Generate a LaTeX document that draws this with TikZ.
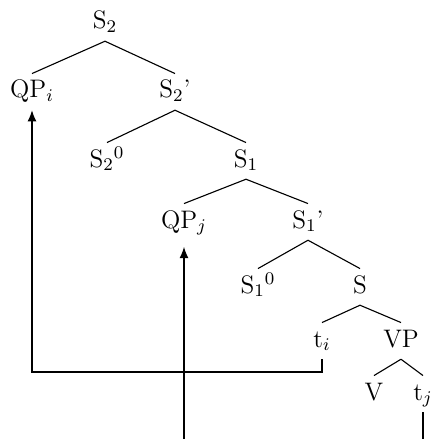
\documentclass[tikz,border=0pt]{standalone}
\usepackage{amsmath}
\usetikzlibrary{
    arrows.meta,
    calc
}
\tikzset{
  cat/.style    = {anchor=base, inner xsep=1pt, inner ysep=3pt,
                   text height=7.8pt, text depth=2.3pt,
                   font=\fontsize{11.4}{13}\selectfont},
  branch/.style = {line width=0.5pt},
  mvarr/.style  = {-{Latex[length=5pt, width=4pt]}, line width=0.5pt}
}

\begin{document}
\begin{tikzpicture}[x=0.45pt, y=-0.45pt]

  \useasboundingbox (0,0) rectangle (433,439);
  \clip (0,0) rectangle (433,439);

  %% ── Categories ────────────────────────────────────────────────
  \node[cat] (S2)   at (105, 29) {S$_2$};
  \node[cat] (QPi)  at ( 32, 98) {QP$_i$};
  \node[cat] (S2p)  at (175, 98) {S$_2$'};
  \node[cat] (S20)  at (107,167) {S$_2{}^0$};
  \node[cat] (S1)   at (246,167) {S$_1$};
  \node[cat] (QPj)  at (184,228) {QP$_j$};
  \node[cat] (S1p)  at (308,228) {S$_1$'};
  \node[cat] (S10)  at (258,293) {S$_1{}^0$};
  \node[cat] (S)    at (360,293) {S};
  \node[cat] (ti)   at (322,347) {t$_i$};
  \node[cat] (VP)   at (401,347) {VP};
  \node[cat] (V)    at (374,400) {V};
  \node[cat] (tj)   at (423,400) {t$_j$};

  %% ── Branches ──────────────────────────────────────────────────
  \draw[branch] (S2.south)  -- (QPi.north);
  \draw[branch] (S2.south)  -- (S2p.north);
  \draw[branch] (S2p.south) -- (S20.north);
  \draw[branch] (S2p.south) -- (S1.north);
  \draw[branch] (S1.south)  -- (QPj.north);
  \draw[branch] (S1.south)  -- (S1p.north);
  \draw[branch] (S1p.south) -- (S10.north);
  \draw[branch] (S1p.south) -- (S.north);
  \draw[branch] (S.south)   -- (ti.north);
  \draw[branch] (S.south)   -- (VP.north);
  \draw[branch] (VP.south)  -- (V.north);
  \draw[branch] (VP.south)  -- (tj.north);

  %% ── Movement ──────────────────────────────────────────────────
  % t_i up to QP_i
  \coordinate (ibend) at (QPi.south |- 0,372);
  \draw[mvarr] (ti.south) |- (ibend) -- (QPi.south);
  % t_j up to QP_j (runs below the frame)
  \coordinate (jbend) at (QPj.south |- 0,470);
  \draw[mvarr, shorten >=3pt] (tj.south) |- (jbend) -- (QPj.south);

\end{tikzpicture}
\end{document}
